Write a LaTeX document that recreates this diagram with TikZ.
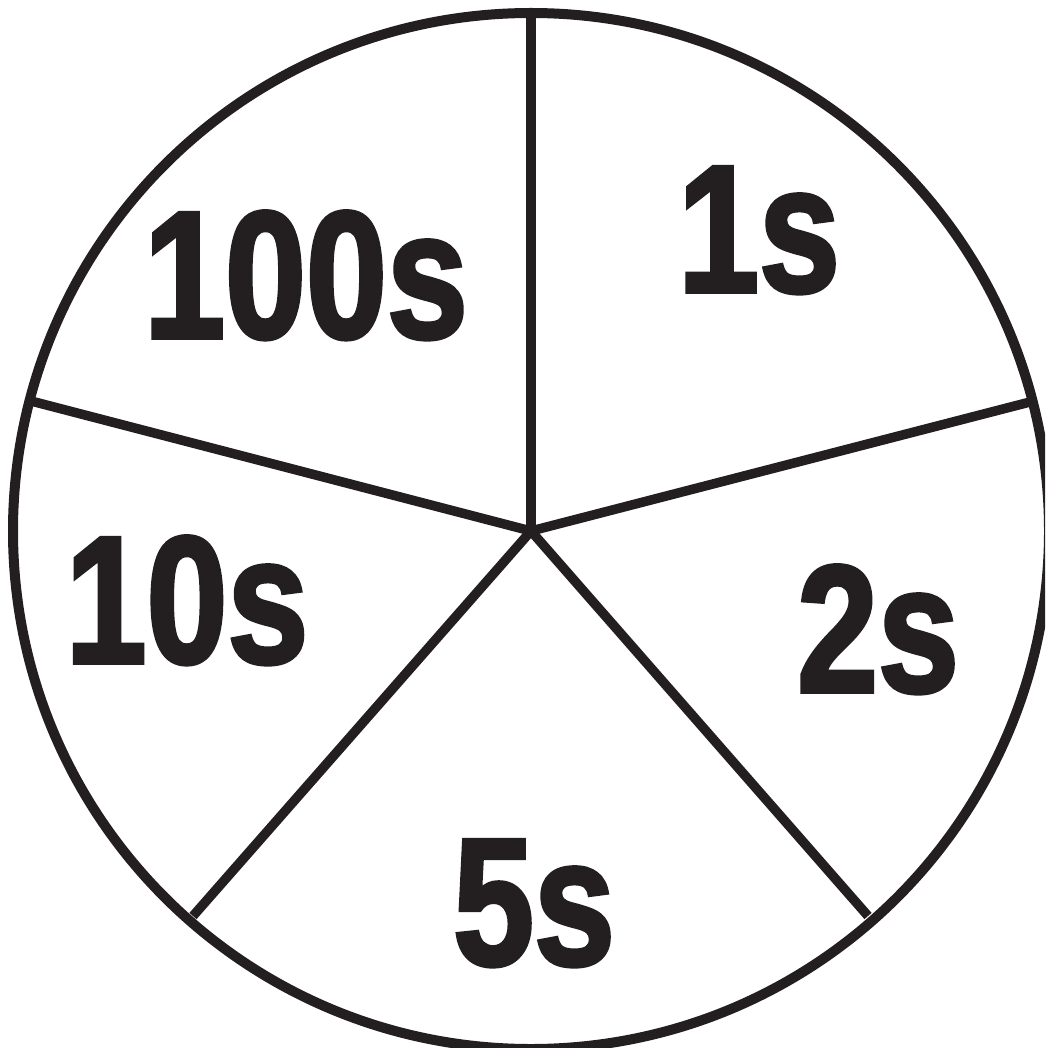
\documentclass[tikz,border=0pt]{standalone}
\usepackage{fontspec}
\newfontfamily\lblfont[FakeStretch=0.8,FakeBold=2]{Liberation Sans Bold}
\definecolor{ink}{HTML}{231F20}
\begin{document}
\begin{tikzpicture}[x=1pt,y=-1pt,
  wheel/.style={draw=ink,line width=10pt},
  spoke/.style={draw=ink,line width=9.5pt},
  lbl/.style={anchor=base,inner sep=0pt,text=ink,font=\lblfont\fontsize{182}{182}\selectfont}]
\useasboundingbox (0,0) rectangle (1045,1048);
\clip (0,0) rectangle (1045,1048);
\coordinate (c) at (531,531);
\path[wheel] (c) circle[radius=518];
\coordinate (top) at (531,16);
\coordinate (right) at (1030,402);
\coordinate (left) at (31,401);
\coordinate (br) at (868,916);
\coordinate (bl) at (193,916);
\draw[spoke] (c) -- (top);
\draw[spoke] (c) -- (right);
\draw[spoke] (c) -- (left);
\draw[spoke] (c) -- (br);
\draw[spoke] (c) -- (bl);
\node[lbl] (n100) at (306,338) {100s};
\node[lbl] (n1) at (759,292) {1s};
\node[lbl] (n2) at (878,692) {2s};
\node[lbl] (n10) at (187,663) {10s};
\node[lbl] (n5) at (534,965) {5s};
\end{tikzpicture}
\end{document}
